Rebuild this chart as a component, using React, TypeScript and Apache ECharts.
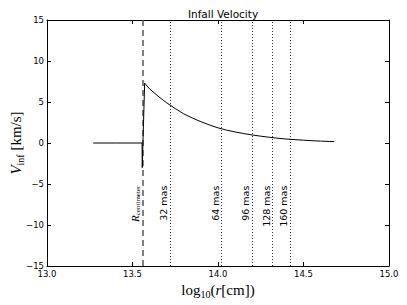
import React, { useEffect, useRef } from "react";
import * as echarts from "echarts";

// Infall velocity curve: log10(r [cm]) vs V_inf [km/s]
const logR = [
  13.27, 13.40, 13.556, 13.557, 13.571, 13.60, 13.65, 13.70, 13.75, 13.80,
  13.85, 13.90, 13.95, 14.00, 14.05, 14.10, 14.15, 14.20, 14.25, 14.30,
  14.35, 14.40, 14.45, 14.50, 14.55, 14.60, 14.65, 14.68,
];
const vInf = [
  0, 0, 0, -3.0, 7.3, 6.6, 5.7, 4.9, 4.2, 3.55,
  3.05, 2.6, 2.2, 1.85, 1.57, 1.35, 1.15, 0.98, 0.83, 0.7,
  0.58, 0.48, 0.41, 0.34, 0.28, 0.23, 0.19, 0.17,
];

const rCentimeter = 13.556;
const masLabels = ["32 mas", "64 mas", "96 mas", "128 mas", "160 mas"];
const masLogR = [13.719, 14.02, 14.196, 14.321, 14.418];
const labelTopV = -5.2; // y value where rotated annotation texts end

const xTicks = [13.0, 13.5, 14.0, 14.5, 15.0];
const yTicks = [-15, -10, -5, 0, 5, 10, 15];

const SANS = "DejaVu Sans";
const SERIF = "Liberation Serif";

export default function App() {
  const ref = useRef<HTMLDivElement>(null);
  useEffect(() => {
    if (!ref.current) return;
    const chart = echarts.init(ref.current, null, { renderer: "svg" });
    const tickCommon = {
      axisLine: { show: true, onZero: false, lineStyle: { color: "#000", width: 1 } },
      axisTick: { show: true, inside: true, length: 4, lineStyle: { color: "#000", width: 1 } },
      splitLine: { show: false },
    };
    const xMin = xTicks[0], xMax = xTicks[xTicks.length - 1];
    const yMin = yTicks[0], yMax = yTicks[yTicks.length - 1];
    const fmt = (v: number, d: number) => v.toFixed(d).replace("-", "\u2212");
    chart.setOption({
      animation: false,
      backgroundColor: "#fff",
      title: {
        text: "Infall Velocity",
        left: 218,
        top: 3,
        textAlign: "center",
        textStyle: { fontFamily: SANS, fontSize: 10.5, fontWeight: "normal", color: "#000" },
      },
      grid: {
        left: 47, right: 18, top: 20, bottom: 39, show: false,
        containLabel: false, outerBoundsMode: "none",
      },
      xAxis: [
        {
          type: "value", min: xMin, max: xMax, interval: 0.5, position: "bottom",
          ...tickCommon,
          axisLabel: {
            color: "#000", fontFamily: SANS, fontSize: 8.5, margin: 3,
            formatter: (v: number) => fmt(v, 1),
          },
          name: "{a|log}{s|10}{a|(}{i|r}{a|[cm])}",
          nameLocation: "middle",
          nameGap: 15,
          nameMoveOverlap: false,
          nameTextStyle: {
            rich: {
              a: { fontFamily: SERIF, fontSize: 15, color: "#000", lineHeight: 18 },
              i: { fontFamily: SERIF, fontSize: 15, fontStyle: "italic", color: "#000", lineHeight: 18 },
              s: { fontFamily: SERIF, fontSize: 10, color: "#000", lineHeight: 10, verticalAlign: "bottom" },
            },
          },
        },
        {
          type: "value", min: xMin, max: xMax, interval: 0.5, position: "top",
          ...tickCommon, axisLabel: { show: false },
        },
      ],
      yAxis: [
        {
          type: "value", min: yMin, max: yMax, interval: 5, position: "left",
          ...tickCommon,
          axisLabel: {
            color: "#000", fontFamily: SANS, fontSize: 8.5, margin: 3,
            formatter: (v: number) => fmt(v, 0),
          },
          name: "{i|V}{s|inf}{a| [km/s]}",
          nameLocation: "middle",
          nameRotate: 90,
          nameGap: 22,
          nameMoveOverlap: false,
          nameTextStyle: {
            rich: {
              a: { fontFamily: SERIF, fontSize: 15, color: "#000", lineHeight: 18 },
              i: { fontFamily: SERIF, fontSize: 15, fontStyle: "italic", color: "#000", lineHeight: 18 },
              s: { fontFamily: SERIF, fontSize: 10, color: "#000", lineHeight: 10, verticalAlign: "bottom" },
            },
          },
        },
        {
          type: "value", min: yMin, max: yMax, interval: 5, position: "right",
          ...tickCommon, axisLabel: { show: false },
        },
      ],
      series: [
        {
          type: "line",
          data: logR.map((x, i) => [x, vInf[i]]),
          showSymbol: false,
          symbol: "none",
          lineStyle: { color: "#000", width: 1 },
          z: 5,
          markLine: {
            silent: true,
            symbol: "none",
            label: { show: false },
            data: [
              { xAxis: rCentimeter, lineStyle: { color: "#555", width: 1.5, type: [6, 4] } },
              ...masLogR.map((x) => ({
                xAxis: x,
                lineStyle: { color: "#333", width: 1, type: [1, 2] },
              })),
            ],
          },
        },
      ],
    });

    const graphics: any[] = [];
    masLabels.forEach((lab, i) => {
      const p = chart.convertToPixel({ gridIndex: 0 }, [masLogR[i], labelTopV]) as number[];
      graphics.push({
        type: "text",
        x: p[0] - 1,
        y: p[1],
        rotation: Math.PI / 2,
        style: {
          text: lab,
          fontFamily: SANS,
          fontSize: 9.5,
          fill: "#000",
          align: "right",
          verticalAlign: "bottom",
        },
      });
    });
    const pr = chart.convertToPixel({ gridIndex: 0 }, [rCentimeter, labelTopV]) as number[];
    graphics.push({
      type: "text",
      x: pr[0] - 1,
      y: pr[1],
      rotation: Math.PI / 2,
      style: {
        text: "{i|R}{s|centimeter}",
        align: "right",
        verticalAlign: "bottom",
        rich: {
          i: { fontFamily: SERIF, fontSize: 11, fontStyle: "italic", fill: "#000", lineHeight: 13 },
          s: { fontFamily: SERIF, fontSize: 7, fill: "#000", lineHeight: 8, verticalAlign: "bottom" },
        },
      },
    });
    chart.setOption({ graphic: graphics });

    return () => chart.dispose();
  }, []);
  return <div ref={ref} style={{ width: 407, height: 305, position: "absolute", left: 0, top: 0 }} />;
}
